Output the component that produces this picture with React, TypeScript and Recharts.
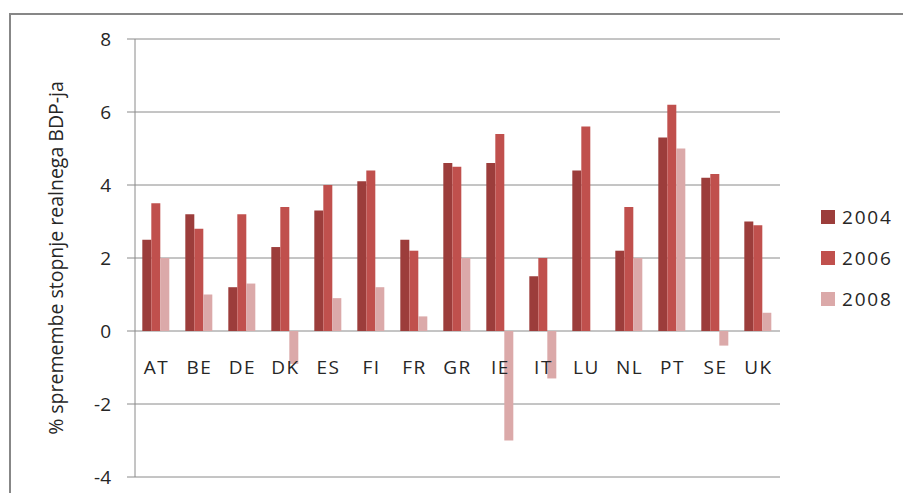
import React from "react";
import {
  BarChart,
  Bar,
  XAxis,
  YAxis,
  CartesianGrid,
  Legend,
} from "recharts";

const countries = ["AT", "BE", "DE", "DK", "ES", "FI", "FR", "GR", "IE", "IT", "LU", "NL", "PT", "SE", "UK"];
const y2004 = [2.5, 3.2, 1.2, 2.3, 3.3, 4.1, 2.5, 4.6, 4.6, 1.5, 4.4, 2.2, 5.3, 4.2, 3.0];
const y2006 = [3.5, 2.8, 3.2, 3.4, 4.0, 4.4, 2.2, 4.5, 5.4, 2.0, 5.6, 3.4, 6.2, 4.3, 2.9];
const y2008 = [2.0, 1.0, 1.3, -0.9, 0.9, 1.2, 0.4, 2.0, -3.0, -1.3, 0, 2.0, 5.0, -0.4, 0.5];
const yTicks = [-4, -2, 0, 2, 4, 6, 8];

const seriesNames = ["2004", "2006", "2008"];
const seriesColors = ["#9c3d3b", "#c0504d", "#dba9a9"];

const data = countries.map((c, i) => ({
  country: c,
  "2004": y2004[i],
  "2006": y2006[i],
  "2008": y2008[i],
}));

const W = 903;
const H = 493;
const TOP = 39;
const X_AXIS_H = 16;
const PLOT_H = H - TOP - X_AXIS_H;
const Y_MIN = -4;
const Y_MAX = 8;
const ZERO_Y = TOP + (PLOT_H * Y_MAX) / (Y_MAX - Y_MIN);
const FONT = "'Open Sans', sans-serif";
const GRID = "#8a8a8a";
const TEXT = "#262626";

function CountryTick(props: any) {
  const { x, payload } = props;
  return (
    <text
      x={x}
      y={ZERO_Y + 43}
      textAnchor="middle"
      fill={TEXT}
      fontSize={19}
      fontFamily={FONT}
      letterSpacing={1.5}
    >
      {payload.value}
    </text>
  );
}

function LegendBox() {
  return (
    <div style={{ fontFamily: FONT }}>
      {seriesNames.map((name, i) => (
        <div
          key={name}
          style={{ display: "flex", alignItems: "center", height: 41 }}
        >
          <span
            style={{
              display: "inline-block",
              width: 14,
              height: 14,
              background: seriesColors[i],
              marginRight: 7,
            }}
          />
          <span style={{ fontSize: 19, color: TEXT, letterSpacing: 1.8 }}>
            {name}
          </span>
        </div>
      ))}
    </div>
  );
}

export default function App() {
  return (
    <div style={{ position: "relative", width: W, height: H, overflow: "hidden" }}>
      <style>{`body{margin:0;overflow:hidden;background:#fff}`}</style>
      <div
        style={{
          position: "absolute",
          left: 9,
          top: 13,
          right: 0,
          bottom: 0,
          borderLeft: "2px solid #878787",
          borderTop: "2px solid #878787",
        }}
      />
      <div style={{ position: "absolute", left: 0, top: 0 }}>
        <BarChart
          width={W}
          height={H}
          data={data}
          margin={{ top: TOP, right: 123, bottom: 0, left: 0 }}
          barCategoryGap="17%"
          barGap={0}
        >
          <CartesianGrid vertical={false} stroke={GRID} strokeWidth={1} />
          <XAxis
            dataKey="country"
            height={X_AXIS_H}
            axisLine={false}
            tickLine={false}
            tick={<CountryTick />}
            interval={0}
          />
          <YAxis
            width={135}
            domain={[Y_MIN, Y_MAX]}
            ticks={yTicks}
            interval={0}
            stroke={GRID}
            tickSize={8}
            tickMargin={16}
            tick={{ fill: TEXT, fontSize: 19, fontFamily: FONT }}
            label={{
              value: "% spremembe stopnje realnega BDP-ja",
              angle: -90,
              position: "insideLeft",
              offset: 56,
              style: {
                textAnchor: "middle",
                fontSize: 19.5,
                fontFamily: FONT,
                fill: TEXT,
              },
            }}
          />
          <Legend
            layout="vertical"
            align="center"
            verticalAlign="middle"
            wrapperStyle={{ left: 821, top: 196, width: 80 }}
            content={<LegendBox />}
          />
          {seriesNames.map((name, i) => (
            <Bar
              key={name}
              dataKey={name}
              fill={seriesColors[i]}
              isAnimationActive={false}
            />
          ))}
        </BarChart>
      </div>
    </div>
  );
}
